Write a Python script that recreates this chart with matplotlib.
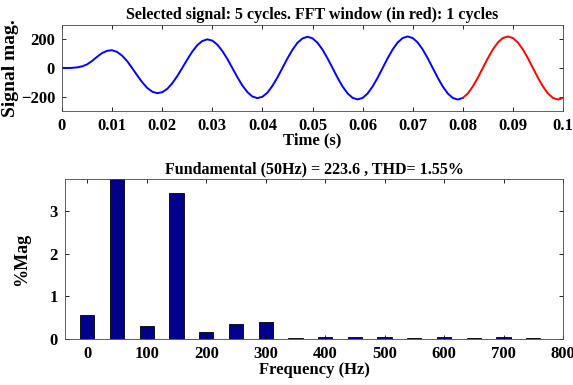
import matplotlib
matplotlib.use('Agg')
import matplotlib.pyplot as plt
import numpy as np

plt.rcParams['font.family'] = ['Liberation Serif', 'DejaVu Serif']
plt.rcParams['font.weight'] = 'bold'
plt.rcParams['axes.titleweight'] = 'bold'
plt.rcParams['axes.labelweight'] = 'bold'

# signal samples, one every 1 ms from 0 to 0.1 s
time_s = [i / 1000 for i in range(101)]
signal = [0, 0, 1, 4, 11, 25, 49, 78, 104, 120,
          124, 112, 86, 48, 0, -51, -99, -139, -165, -176,
          -169, -146, -107, -57, 0, 59, 114, 159, 188, 200,
          191, 163, 119, 63, 0, -64, -122, -168, -199, -210,
          -201, -172, -125, -66, 0, 67, 127, 176, 206, 218,
          207, 176, 128, 67, 0, -68, -129, -177, -208, -219,
          -209, -178, -129, -68, 0, 68, 129, 178, 209, 220,
          209, 178, 129, 68, 0, -68, -129, -178, -209, -220,
          -209, -178, -129, -68, 0, 68, 129, 178, 209, 220,
          209, 178, 129, 68, 0, -68, -129, -178, -209, -220,
          -209]
fft_start = 80  # index where the red FFT window begins (0.08 s)

# harmonic spectrum (% of fundamental)
freqs = [0, 50, 100, 150, 200, 250, 300, 350, 400, 450, 500, 550, 600, 650, 700, 750]
mags = [0.56, 100, 0.31, 3.42, 0.16, 0.36, 0.41, 0.02, 0.05, 0.04, 0.05, 0.02, 0.05, 0.02, 0.04, 0.02]

fig = plt.figure(figsize=(5.73, 3.85), dpi=100)

# ---- top: time signal
ax1 = fig.add_axes([62 / 573, 1 - 111 / 385, 501 / 573, 86 / 385])
ax1.plot(time_s[:fft_start + 1], signal[:fft_start + 1], color='blue', lw=1.4)
ax1.plot(time_s[fft_start:], signal[fft_start:], color='red', lw=1.4)
ax1.set_xlim(0, 0.1)
ax1.set_ylim(-300, 300)
ax1.set_xticks([0, 0.01, 0.02, 0.03, 0.04, 0.05, 0.06, 0.07, 0.08, 0.09, 0.1])
ax1.set_xticklabels(['0', '0.01', '0.02', '0.03', '0.04', '0.05', '0.06', '0.07', '0.08', '0.09', '0.1'])
ax1.set_yticks([-200, 0, 200])
ax1.set_title('Selected signal: 5 cycles. FFT window (in red): 1 cycles', fontsize=11.5, pad=4)
ax1.set_xlabel('Time (s)', fontsize=12, labelpad=-1)
ax1.set_ylabel('Signal mag.', fontsize=14, labelpad=1)

# ---- bottom: spectrum
ax2 = fig.add_axes([65 / 573, 1 - 339 / 385, 498 / 573, 160 / 385])
ax2.bar(freqs, mags, width=24, color='#00008b', edgecolor='black', linewidth=0.6)
ax2.set_xlim(-37.5, 800)
ax2.set_ylim(0, 3.76)
ax2.set_xticks(range(0, 801, 100))
ax2.set_yticks([0, 1, 2, 3])
ax2.set_title('Fundamental (50Hz) = 223.6 , THD= 1.55%', fontsize=11.5, pad=4)
ax2.set_xlabel('Frequency (Hz)', fontsize=12, labelpad=0)
ax2.set_ylabel('%Mag', fontsize=13, labelpad=14)

for ax in (ax1, ax2):
    ax.tick_params(direction='in', top=True, right=True, labelsize=12, length=3, width=0.6, pad=5)
    for lab in ax.get_xticklabels() + ax.get_yticklabels():
        lab.set_fontweight('bold')
    for s in ax.spines.values():
        s.set_linewidth(0.6)
        s.set_color('#444444')

fig.savefig('out.png', dpi=100)
